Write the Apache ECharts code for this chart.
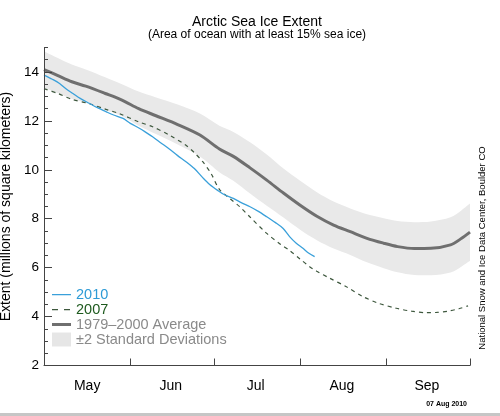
<!DOCTYPE html>
<html>
<head>
<meta charset="utf-8">
<script src="https://cdn.jsdelivr.net/npm/echarts@6/dist/echarts.min.js"></script>
<style>
  html, body { margin: 0; padding: 0; background: #fff; }
  #chart { width: 500px; height: 413px; }
  #bar { width: 500px; height: 3px; background: #c6c6c6; }
</style>
</head>
<body>
<div id="chart"></div>
<div id="bar"></div>
<script>
// x values are days since 1 May
const monthNames = ['May', 'Jun', 'Jul', 'Aug', 'Sep'];
const monthLabelDays = [15.5, 45.5, 76, 107, 137.5];
const monthBoundaryDays = [31, 61, 92, 123, 153];
const yTickLabels = [2, 4, 6, 8, 10, 12, 14];

const avgDays = [0, 5, 10, 15, 22, 28, 34, 40, 48, 56, 63, 68, 74, 80, 86, 92, 98, 104, 110, 116, 122, 127, 133, 139, 146, 150, 153];
const avgValues = [14.1, 13.85, 13.6, 13.42, 13.12, 12.85, 12.5, 12.22, 11.85, 11.42, 10.85, 10.55, 10.08, 9.58, 9.05, 8.55, 8.1, 7.74, 7.47, 7.2, 7.0, 6.86, 6.78, 6.79, 6.93, 7.2, 7.45];
const bandUpper = [14.85, 14.57, 14.3, 14.1, 13.78, 13.5, 13.2, 12.97, 12.67, 12.3, 11.8, 11.55, 11.13, 10.63, 10.05, 9.55, 9.08, 8.7, 8.42, 8.18, 8.02, 7.91, 7.86, 7.89, 8.06, 8.35, 8.62];
const bandLower = [13.35, 13.13, 12.9, 12.74, 12.46, 12.2, 11.8, 11.47, 11.03, 10.54, 9.9, 9.55, 9.03, 8.53, 8.05, 7.55, 7.12, 6.78, 6.52, 6.22, 5.98, 5.81, 5.7, 5.69, 5.8, 6.05, 6.28];

const days2010 = [0, 3, 5.6, 8, 10.4, 13, 16.4, 19, 22.4, 25, 28.4, 31, 34.4, 37, 39, 42, 45, 48, 51, 54, 57, 59.5, 62.5, 65, 68, 71, 74, 77, 80, 83, 85.8, 88.2, 90.6, 93, 95, 97.2];
const values2010 = [13.87, 13.7, 13.53, 13.3, 13.12, 12.92, 12.71, 12.55, 12.37, 12.24, 12.1, 11.9, 11.69, 11.5, 11.35, 11.1, 10.85, 10.58, 10.33, 10.05, 9.68, 9.4, 9.15, 8.97, 8.83, 8.65, 8.49, 8.3, 8.08, 7.85, 7.61, 7.27, 7.0, 6.79, 6.6, 6.45];

const days2007 = [0, 5, 10, 16, 22, 27, 34, 39, 45, 51, 54, 57, 60, 63, 66.7, 70.3, 73.9, 80, 85, 88, 92, 95.4, 98, 102.6, 108.6, 114.5, 120, 126.5, 132, 137.3, 141, 145, 149, 152.3];
const values2007 = [13.32, 13.12, 12.88, 12.71, 12.48, 12.3, 11.96, 11.76, 11.42, 11.0, 10.7, 10.33, 9.85, 9.2, 8.83, 8.49, 8.08, 7.4, 6.95, 6.72, 6.35, 6.04, 5.85, 5.57, 5.22, 4.82, 4.55, 4.34, 4.22, 4.16, 4.17, 4.22, 4.32, 4.44];

const FONT = '"Liberation Sans", Arial, Helvetica, sans-serif';
const pairs = (xs, ys) => xs.map((x, i) => [x, ys[i]]);

// legend icon shapes (tiny corner specks keep the 19x14 bounding box)
const BOX = 'M0,0 L0.01,0 L0,0.01 Z M19,14 L18.99,14 L19,13.99 Z ';
const ICON_THIN = 'path://' + BOX + 'M0,6.5 L19,6.5 L19,7.7 L0,7.7 Z';
const ICON_DASH = 'path://' + BOX + 'M0,6.5 L6,6.5 L6,7.7 L0,7.7 Z M12,6.5 L18,6.5 L18,7.7 L12,7.7 Z';
const ICON_THICK = 'path://' + BOX + 'M0,5.5 L19,5.5 L19,8.5 L0,8.5 Z';

const chart = echarts.init(document.getElementById('chart'), null, { renderer: 'canvas' });
chart.setOption({
  animation: false,
  textStyle: { fontFamily: FONT },
  grid: { left: 44, right: 30, top: 47.5, bottom: 47.5, containLabel: false, outerBoundsMode: 'none' },
  xAxis: {
    type: 'value', min: 0, max: 153, z: 10,
    axisLine: { show: true, lineStyle: { color: '#444', width: 1 } },
    axisTick: { show: true, inside: true, length: 7, customValues: monthBoundaryDays, lineStyle: { color: '#444' } },
    axisLabel: {
      show: true, customValues: monthLabelDays, margin: 14, color: '#000', fontSize: 14, fontFamily: FONT,
      formatter: v => monthNames[monthLabelDays.indexOf(v)] || ''
    },
    splitLine: { show: false }
  },
  yAxis: [
    {
      type: 'value', min: 2, max: 15, interval: 2, position: 'left', z: 10,
      name: 'Extent (millions of square kilometers)', nameLocation: 'middle', nameRotate: 90, nameGap: 27,
      nameTextStyle: { fontSize: 14, color: '#000', fontFamily: FONT },
      axisLine: { show: true, lineStyle: { color: '#444', width: 1 } },
      axisTick: { show: true, inside: true, length: 8, customValues: yTickLabels, lineStyle: { color: '#444' } },
      axisLabel: { show: true, customValues: yTickLabels, margin: 5, color: '#000', fontSize: 13.5, fontFamily: FONT },
      splitLine: { show: false }
    },
    {
      type: 'value', min: 2, max: 15, interval: 0.5, position: 'left', offset: 0, z: 10,
      axisLine: { show: false },
      axisTick: { show: true, inside: true, length: 4, lineStyle: { color: '#444' } },
      axisLabel: { show: false },
      splitLine: { show: false }
    }
  ],
  legend: {
    orient: 'vertical', left: 52, top: 287, itemWidth: 19, itemHeight: 14, itemGap: 0, padding: 0, z: 20,
    textStyle: { fontSize: 14.5, lineHeight: 14, fontFamily: FONT },
    data: [
      { name: '2010', icon: ICON_THIN, itemStyle: { color: '#3aa0da' }, textStyle: { color: '#2e9bd6' } },
      { name: '2007', icon: ICON_DASH, itemStyle: { color: '#3d573d' }, textStyle: { color: '#1e5a1e' } },
      { name: '1979\u20132000 Average', icon: ICON_THICK, itemStyle: { color: '#6f6f6f' }, textStyle: { color: '#8a8a8a' } },
      { name: '\u00b12 Standard Deviations', icon: 'rect', itemStyle: { color: '#e6e6e6' }, textStyle: { color: '#8a8a8a' } }
    ]
  },
  graphic: [
    { type: 'text', x: 257, y: 22, style: { text: 'Arctic Sea Ice Extent', fill: '#000', font: '14px ' + FONT, textAlign: 'center', textVerticalAlign: 'middle' } },
    { type: 'text', x: 257, y: 35, style: { text: '(Area of ocean with at least 15% sea ice)', fill: '#000', font: '12px ' + FONT, textAlign: 'center', textVerticalAlign: 'middle' } },
    { type: 'text', x: 482.5, y: 248, rotation: Math.PI / 2, style: { text: 'National Snow and Ice Data Center, Boulder CO', fill: '#000', font: '9.5px ' + FONT, textAlign: 'center', textVerticalAlign: 'middle' } },
    { type: 'text', x: 467, y: 404.5, style: { text: '07 Aug 2010', fill: '#000', font: 'bold 7px ' + FONT, textAlign: 'right', textVerticalAlign: 'middle' } }
  ],
  series: [
    {
      name: '\u00b12 Standard Deviations', type: 'line', symbol: 'none', silent: true, smooth: 0.3,
      color: '#e6e6e6', itemStyle: { color: '#e6e6e6' },
      data: pairs(avgDays, bandUpper),
      lineStyle: { opacity: 0 }, areaStyle: { color: '#e9e9e9', opacity: 1, origin: 'start' }
    },
    {
      name: 'bandLowerMask', type: 'line', symbol: 'none', silent: true, smooth: 0.3,
      color: '#ffffff', data: pairs(avgDays, bandLower),
      lineStyle: { opacity: 0 }, areaStyle: { color: '#ffffff', opacity: 1, origin: 'start' }
    },
    {
      name: '1979\u20132000 Average', type: 'line', symbol: 'none', smooth: 0.3,
      color: '#6f6f6f', data: pairs(avgDays, avgValues), lineStyle: { color: '#6f6f6f', width: 3 }
    },
    {
      name: '2007', type: 'line', symbol: 'none', smooth: 0.3,
      color: '#3d573d', data: pairs(days2007, values2007), lineStyle: { color: '#3d573d', width: 1.2, type: [4, 4] }
    },
    {
      name: '2010', type: 'line', symbol: 'none', smooth: 0.3,
      color: '#3aa0da', data: pairs(days2010, values2010), lineStyle: { color: '#3aa0da', width: 1.3 }
    }
  ]
});
</script>
</body>
</html>
